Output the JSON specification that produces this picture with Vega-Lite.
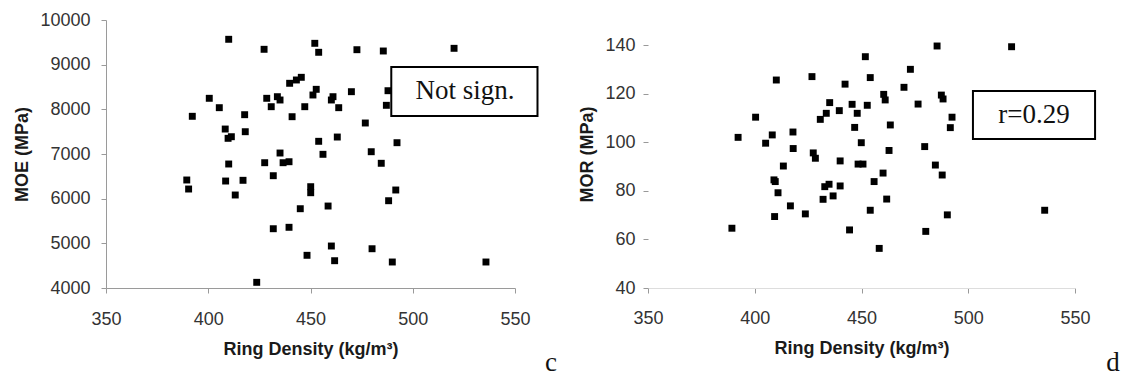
{
  "$schema": "https://vega.github.io/schema/vega-lite/v6.json",
  "background": "white",
  "padding": {"left": 13, "top": 11, "right": 5, "bottom": 0},
  "autosize": {"type": "pad"},
  "spacing": 133,
  "bounds": "flush",
  "config": {
    "view": {"stroke": null},
    "font": "Liberation Sans",
    "axis": {
      "grid": false,
      "labelFontSize": 18,
      "labelColor": "#333333",
      "titleFontSize": 18,
      "titleFontWeight": "bold",
      "titleColor": "#1a1a1a",
      "tickSize": 5,
      "labelFlush": false,
      "labelOverlap": false
    }
  },
  "datasets": {
    "moe": [
      {"density": 410.0, "moe": 9568}, {"density": 427.3, "moe": 9344}, {"density": 452.1, "moe": 9478}, {"density": 454.0, "moe": 9277},
      {"density": 472.7, "moe": 9335}, {"density": 485.6, "moe": 9306}, {"density": 520.2, "moe": 9366}, {"density": 445.5, "moe": 8717},
      {"density": 443.1, "moe": 8657}, {"density": 439.8, "moe": 8583}, {"density": 400.5, "moe": 8247}, {"density": 428.6, "moe": 8247},
      {"density": 433.8, "moe": 8283}, {"density": 435.1, "moe": 8209}, {"density": 405.4, "moe": 8037}, {"density": 430.8, "moe": 8059},
      {"density": 452.8, "moe": 8448}, {"density": 451.2, "moe": 8321}, {"density": 461.0, "moe": 8283}, {"density": 460.2, "moe": 8209},
      {"density": 470.0, "moe": 8395}, {"density": 487.9, "moe": 8417}, {"density": 487.1, "moe": 8090}, {"density": 447.2, "moe": 8059},
      {"density": 463.8, "moe": 8037}, {"density": 392.2, "moe": 7844}, {"density": 417.8, "moe": 7880}, {"density": 441.0, "moe": 7835},
      {"density": 408.3, "moe": 7559}, {"density": 418.1, "moe": 7499}, {"density": 409.7, "moe": 7351}, {"density": 411.3, "moe": 7387},
      {"density": 476.8, "moe": 7694}, {"density": 454.0, "moe": 7284}, {"density": 463.1, "moe": 7380}, {"density": 492.3, "moe": 7253},
      {"density": 435.1, "moe": 7022}, {"density": 456.1, "moe": 6993}, {"density": 479.7, "moe": 7051}, {"density": 410.0, "moe": 6776},
      {"density": 427.6, "moe": 6805}, {"density": 436.6, "moe": 6805}, {"density": 439.5, "moe": 6827}, {"density": 484.6, "moe": 6792},
      {"density": 389.5, "moe": 6418}, {"density": 390.4, "moe": 6216}, {"density": 408.5, "moe": 6395}, {"density": 417.0, "moe": 6411},
      {"density": 413.2, "moe": 6082}, {"density": 431.8, "moe": 6514}, {"density": 450.1, "moe": 6268}, {"density": 450.1, "moe": 6133},
      {"density": 491.7, "moe": 6194}, {"density": 488.2, "moe": 5954}, {"density": 445.0, "moe": 5775}, {"density": 458.6, "moe": 5835},
      {"density": 431.8, "moe": 5327}, {"density": 439.5, "moe": 5359}, {"density": 460.2, "moe": 4940}, {"density": 448.3, "moe": 4732},
      {"density": 461.8, "moe": 4611}, {"density": 480.1, "moe": 4879}, {"density": 490.0, "moe": 4582}, {"density": 535.8, "moe": 4582},
      {"density": 423.7, "moe": 4127}
    ],
    "mor": [
      {"density": 410.1, "mor": 125.6}, {"density": 426.8, "mor": 127.0}, {"density": 442.3, "mor": 123.9}, {"density": 435.1, "mor": 116.3},
      {"density": 433.5, "mor": 111.9}, {"density": 439.6, "mor": 113.0}, {"density": 430.7, "mor": 109.4}, {"density": 400.4, "mor": 110.3},
      {"density": 392.2, "mor": 102.0}, {"density": 408.2, "mor": 103.0}, {"density": 405.1, "mor": 99.6}, {"density": 417.9, "mor": 104.2},
      {"density": 418.0, "mor": 97.4}, {"density": 427.4, "mor": 95.6}, {"density": 428.4, "mor": 93.4}, {"density": 440.0, "mor": 92.3},
      {"density": 413.4, "mor": 90.2}, {"density": 409.0, "mor": 84.5}, {"density": 409.6, "mor": 83.8}, {"density": 410.9, "mor": 79.2},
      {"density": 416.7, "mor": 73.8}, {"density": 409.3, "mor": 69.4}, {"density": 423.7, "mor": 70.5}, {"density": 389.3, "mor": 64.6},
      {"density": 432.0, "mor": 76.5}, {"density": 434.8, "mor": 82.7}, {"density": 432.8, "mor": 81.7}, {"density": 436.7, "mor": 77.9},
      {"density": 440.0, "mor": 82.0}, {"density": 444.4, "mor": 63.9}, {"density": 485.4, "mor": 139.6}, {"density": 520.3, "mor": 139.3},
      {"density": 451.8, "mor": 135.2}, {"density": 472.9, "mor": 130.0}, {"density": 454.1, "mor": 126.6}, {"density": 469.9, "mor": 122.6},
      {"density": 460.4, "mor": 119.7}, {"density": 461.1, "mor": 117.4}, {"density": 487.4, "mor": 119.4}, {"density": 488.2, "mor": 117.8},
      {"density": 476.5, "mor": 115.7}, {"density": 445.6, "mor": 115.6}, {"density": 452.7, "mor": 115.2}, {"density": 448.0, "mor": 111.9},
      {"density": 446.8, "mor": 106.1}, {"density": 463.5, "mor": 107.1}, {"density": 492.4, "mor": 110.3}, {"density": 491.6, "mor": 106.0},
      {"density": 449.9, "mor": 99.8}, {"density": 462.9, "mor": 96.6}, {"density": 479.6, "mor": 98.2}, {"density": 448.4, "mor": 91.0},
      {"density": 450.7, "mor": 91.0}, {"density": 484.6, "mor": 90.6}, {"density": 487.8, "mor": 86.5}, {"density": 460.1, "mor": 87.3},
      {"density": 455.9, "mor": 83.8}, {"density": 461.8, "mor": 76.6}, {"density": 454.1, "mor": 72.0}, {"density": 490.2, "mor": 70.1},
      {"density": 535.8, "mor": 72.0}, {"density": 480.1, "mor": 63.3}, {"density": 458.3, "mor": 56.3}
    ]
  },
  "hconcat": [
    {
      "width": 409,
      "height": 268,
      "layer": [
        {
          "data": {"name": "moe"},
          "mark": {"type": "point", "shape": "square", "filled": true, "size": 48, "color": "black", "opacity": 1},
          "encoding": {
            "x": {
              "field": "density", "type": "quantitative",
              "scale": {"domain": [350, 550], "nice": false, "zero": false},
              "axis": {"title": "Ring Density (kg/m³)", "values": [350, 400, 450, 500, 550], "domainColor": "#9a9a9a", "tickColor": "#9a9a9a", "labelPadding": 17, "titlePadding": 12}
            },
            "y": {
              "field": "moe", "type": "quantitative",
              "scale": {"domain": [4000, 10000], "nice": false, "zero": false},
              "axis": {"title": "MOE (MPa)", "values": [4000, 5000, 6000, 7000, 8000, 9000, 10000], "format": "d", "domainColor": "#9a9a9a", "tickColor": "#9a9a9a", "labelPadding": 11, "titlePadding": 8}
            }
          }
        },
        {
          "data": {"values": [{}]},
          "mark": {"type": "rect", "fill": "white", "stroke": "black", "strokeWidth": 2},
          "encoding": {"x": {"datum": 489.5}, "x2": {"datum": 561}, "y": {"datum": 8948}, "y2": {"datum": 7851}}
        },
        {
          "data": {"values": [{}]},
          "mark": {"type": "text", "font": "Liberation Serif", "fontSize": 27, "color": "#111111", "align": "center", "baseline": "middle"},
          "encoding": {"x": {"datum": 525.5}, "y": {"datum": 8400}, "text": {"value": "Not sign."}}
        },
        {
          "data": {"values": [{}]},
          "mark": {"type": "text", "font": "Liberation Serif", "fontSize": 27, "color": "#111111", "align": "center", "baseline": "alphabetic"},
          "encoding": {"x": {"datum": 567.6}, "y": {"datum": 2142}, "text": {"value": "c"}}
        }
      ]
    },
    {
      "width": 427,
      "height": 268,
      "layer": [
        {
          "data": {"name": "mor"},
          "mark": {"type": "point", "shape": "square", "filled": true, "size": 48, "color": "black", "opacity": 1},
          "encoding": {
            "x": {
              "field": "density", "type": "quantitative",
              "scale": {"domain": [350, 550], "nice": false, "zero": false},
              "axis": {"title": "Ring Density (kg/m³)", "values": [350, 400, 450, 500, 550], "domainColor": "#dddddd", "tickColor": "#999999", "labelPadding": 16, "titlePadding": 12}
            },
            "y": {
              "field": "mor", "type": "quantitative",
              "scale": {"domain": [40, 150.3], "nice": false, "zero": false},
              "axis": {"title": "MOR (MPa)", "values": [40, 60, 80, 100, 120, 140], "format": "d", "domain": false, "tickColor": "#999999", "labelPadding": 8, "titlePadding": 8}
            }
          }
        },
        {
          "data": {"values": [{}]},
          "mark": {"type": "rect", "fill": "white", "stroke": "black", "strokeWidth": 2},
          "encoding": {"x": {"datum": 502.2}, "x2": {"datum": 559.4}, "y": {"datum": 121.1}, "y2": {"datum": 101.3}}
        },
        {
          "data": {"values": [{}]},
          "mark": {"type": "text", "font": "Liberation Serif", "fontSize": 27, "color": "#111111", "align": "center", "baseline": "middle"},
          "encoding": {"x": {"datum": 530.8}, "y": {"datum": 111.2}, "text": {"value": "r=0.29"}}
        },
        {
          "data": {"values": [{}]},
          "mark": {"type": "text", "font": "Liberation Serif", "fontSize": 27, "color": "#111111", "align": "center", "baseline": "alphabetic"},
          "encoding": {"x": {"datum": 567.8}, "y": {"datum": 5.8}, "text": {"value": "d"}}
        }
      ]
    }
  ]
}
